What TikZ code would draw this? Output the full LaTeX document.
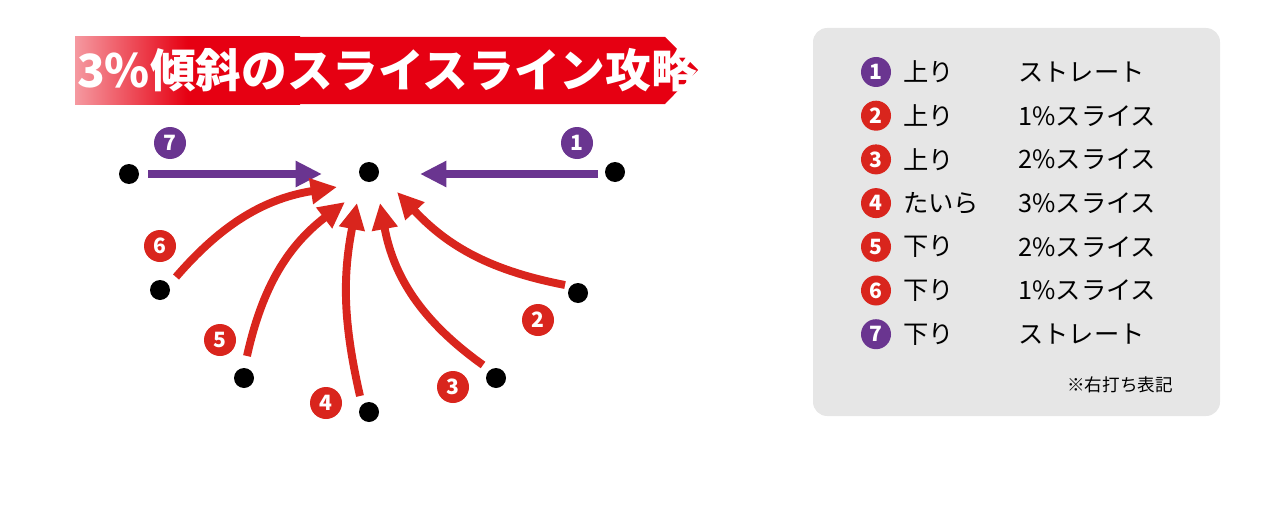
\documentclass[tikz,border=0pt]{standalone}
\usepackage{fontspec}
\setmainfont{Noto Sans CJK JP}
\usetikzlibrary{arrows.meta}
\definecolor{golfred}{HTML}{D9251D}
\definecolor{golfpurple}{HTML}{6A3590}
\definecolor{bannerred}{HTML}{E60012}
\definecolor{boxgray}{HTML}{E6E6E6}
\tikzset{
  ball/.style={circle, fill=black, inner sep=0pt, minimum size=20*0.02cm},
  badge/.style={circle, fill=#1, text=white, inner sep=0pt, minimum size=32*0.02cm, font=\bfseries\large},
  putt/.style={line width=4.5pt, draw=#1, -{Triangle[length=15pt,width=14pt]}},
  legend/.style={anchor=west, font=\Large, inner sep=0pt}
}
\begin{document}
\begin{tikzpicture}[x=0.02cm, y=-0.02cm]
\useasboundingbox (0,0) rectangle (1280,510);

% banner
\shade[left color=bannerred!40, right color=bannerred, middle color=bannerred]
  (75,37) -- (300,37) -- (300,104) -- (75,104) -- cycle;
\fill[bannerred] (299,37) -- (665,37) -- (698,70) -- (665,104) -- (299,104) -- cycle;
\node[text=white, font=\bfseries\fontsize{26}{30}\selectfont] (title) at (387,70) {3\%傾斜のスライスライン攻略};

% balls
\node[ball] (cup) at (369,172) {};
\node[ball] (b1) at (615,172) {};
\node[ball] (b2) at (578,293) {};
\node[ball] (b3) at (496,378) {};
\node[ball] (b4) at (369,412) {};
\node[ball] (b5) at (244,378) {};
\node[ball] (b6) at (160,290) {};
\node[ball] (b7) at (129,174) {};

% putt lines
\coordinate (e1) at (598,174); \coordinate (t1) at (420,174);
\coordinate (e7) at (148,174); \coordinate (t7) at (322,174);
\coordinate (e2) at (565,285); \coordinate (t2) at (397,192);
\coordinate (e3) at (483,365); \coordinate (t3) at (380,203);
\coordinate (e4) at (360,396); \coordinate (t4) at (357,203);
\coordinate (e5) at (247,356); \coordinate (t5) at (345,202);
\coordinate (e6) at (176,277); \coordinate (t6) at (337,187);

\draw[putt=golfpurple] (e1) -- (t1);
\draw[putt=golfpurple] (e7) -- (t7);
\draw[putt=golfred] (e2) to[bend left=18] (t2);
\draw[putt=golfred] (e3) to[bend left=22] (t3);
\draw[putt=golfred] (e4) to[bend left=12] (t4);
\draw[putt=golfred] (e5) to[bend left=20] (t5);
\draw[putt=golfred] (e6) to[bend left=20] (t6);

% badges
\node[badge=golfpurple] (n1) at (577,143) {1};
\node[badge=golfred] (n2) at (538,320) {2};
\node[badge=golfred] (n3) at (453,387) {3};
\node[badge=golfred] (n4) at (326,403) {4};
\node[badge=golfred] (n5) at (220,340) {5};
\node[badge=golfred] (n6) at (160,246) {6};
\node[badge=golfpurple] (n7) at (170,143) {7};

% legend
\fill[boxgray, rounded corners=8pt] (813,28) rectangle (1220,416);
\foreach \n/\c/\a/\b [count=\i] in {1/golfpurple/上り/ストレート, 2/golfred/上り/1\%スライス,
  3/golfred/上り/2\%スライス, 4/golfred/たいら/3\%スライス, 5/golfred/下り/2\%スライス,
  6/golfred/下り/1\%スライス, 7/golfpurple/下り/ストレート} {
  \node[badge=\c, minimum size=30*0.02cm] (l\i) at (876,{72+43.7*(\i-1)}) {\n};
  \node[legend] (la\i) at (903,{72+43.7*(\i-1)}) {\a};
  \node[legend] (lb\i) at (1018,{72+43.7*(\i-1)}) {\b};
}
\node[font=\normalsize] (note) at (1120,385) {※右打ち表記};
\end{tikzpicture}
\end{document}
